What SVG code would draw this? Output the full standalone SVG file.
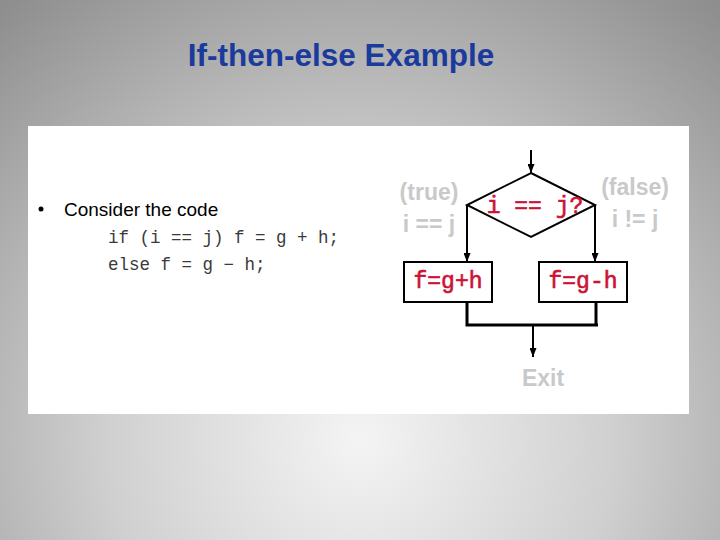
<svg xmlns="http://www.w3.org/2000/svg" width="720" height="540" viewBox="0 0 720 540">
<defs>
<radialGradient id="bg" cx="360" cy="440" r="560" gradientUnits="userSpaceOnUse">
<stop offset="0" stop-color="#f4f4f4"/>
<stop offset="0.45" stop-color="#d0d0d0"/>
<stop offset="1" stop-color="#8e8e8e"/>
</radialGradient>
<marker id="ah" viewBox="0 0 10 10" refX="10" refY="5" markerWidth="9" markerHeight="7" orient="auto" markerUnits="userSpaceOnUse" preserveAspectRatio="none">
<path d="M0,0 L10,5 L0,10 z" fill="#000"/>
</marker>
<style>
.line{stroke:#000;stroke-width:2;fill:none}
.thick{stroke:#000;stroke-width:3;fill:none}
.box{fill:#fff;stroke:#000;stroke-width:2}
.code{font-family:"Liberation Mono",monospace;font-weight:normal;fill:#cc1236;stroke:#cc1236;stroke-width:0.6}
.lbl{font-family:"Liberation Sans",Arial,sans-serif;fill:#c9c9c9;font-size:23px;font-weight:bold}
.src{font-family:"Liberation Mono",monospace;font-size:17.5px;fill:#3a3a3a}
</style>
</defs>
<rect x="0" y="0" width="720" height="540" fill="url(#bg)"/>
<text x="341" y="66" text-anchor="middle" font-family="Liberation Sans,Arial,sans-serif" font-weight="bold" font-size="31.5" fill="#1a3a9c">If-then-else Example</text>
<rect x="28" y="126" width="661" height="288" fill="#fff"/>

<g id="bullet-text">
<circle cx="41" cy="209" r="2.5" fill="#000"/>
<text x="64" y="216" font-family="Liberation Sans,Arial,sans-serif" font-size="19" fill="#000">Consider the code</text>
<text class="src" x="108" y="243">if (i == j) f = g + h;</text>
<text class="src" x="108" y="270">else f = g − h;</text>
</g>

<g id="connectors">
<line class="line" x1="531" y1="150" x2="531" y2="173" marker-end="url(#ah)"/>
<line class="line" x1="467" y1="205" x2="467" y2="262" marker-end="url(#ah)"/>
<line class="line" x1="595" y1="205" x2="595" y2="262" marker-end="url(#ah)"/>
<polyline class="thick" points="467,302 467,325 598,325"/>
<line class="thick" x1="596" y1="302" x2="596" y2="325"/>
<line class="line" x1="533" y1="325" x2="533" y2="357" marker-end="url(#ah)"/>
</g>

<g id="decision">
<polygon points="531,173 595,205 531,237 467,205" fill="#fff" stroke="#000" stroke-width="2"/>
<text class="code" x="535" y="213" text-anchor="middle" font-size="23">i == j?</text>
</g>

<g id="label-true">
<text class="lbl" x="429" y="200" text-anchor="middle">(true)</text>
<text class="lbl" x="429" y="232" text-anchor="middle">i == j</text>
</g>

<g id="label-false">
<text class="lbl" x="635" y="195" text-anchor="middle">(false)</text>
<text class="lbl" x="635" y="227" text-anchor="middle">i != j</text>
</g>

<g id="box-true">
<rect class="box" x="404" y="262" width="88" height="40"/>
<text class="code" x="448" y="288" text-anchor="middle" font-size="23">f=g+h</text>
</g>

<g id="box-false">
<rect class="box" x="539" y="262" width="88" height="40"/>
<text class="code" x="583" y="288" text-anchor="middle" font-size="23">f=g-h</text>
</g>

<g id="exit">
<text class="lbl" x="543" y="386" text-anchor="middle">Exit</text>
</g>
</svg>
